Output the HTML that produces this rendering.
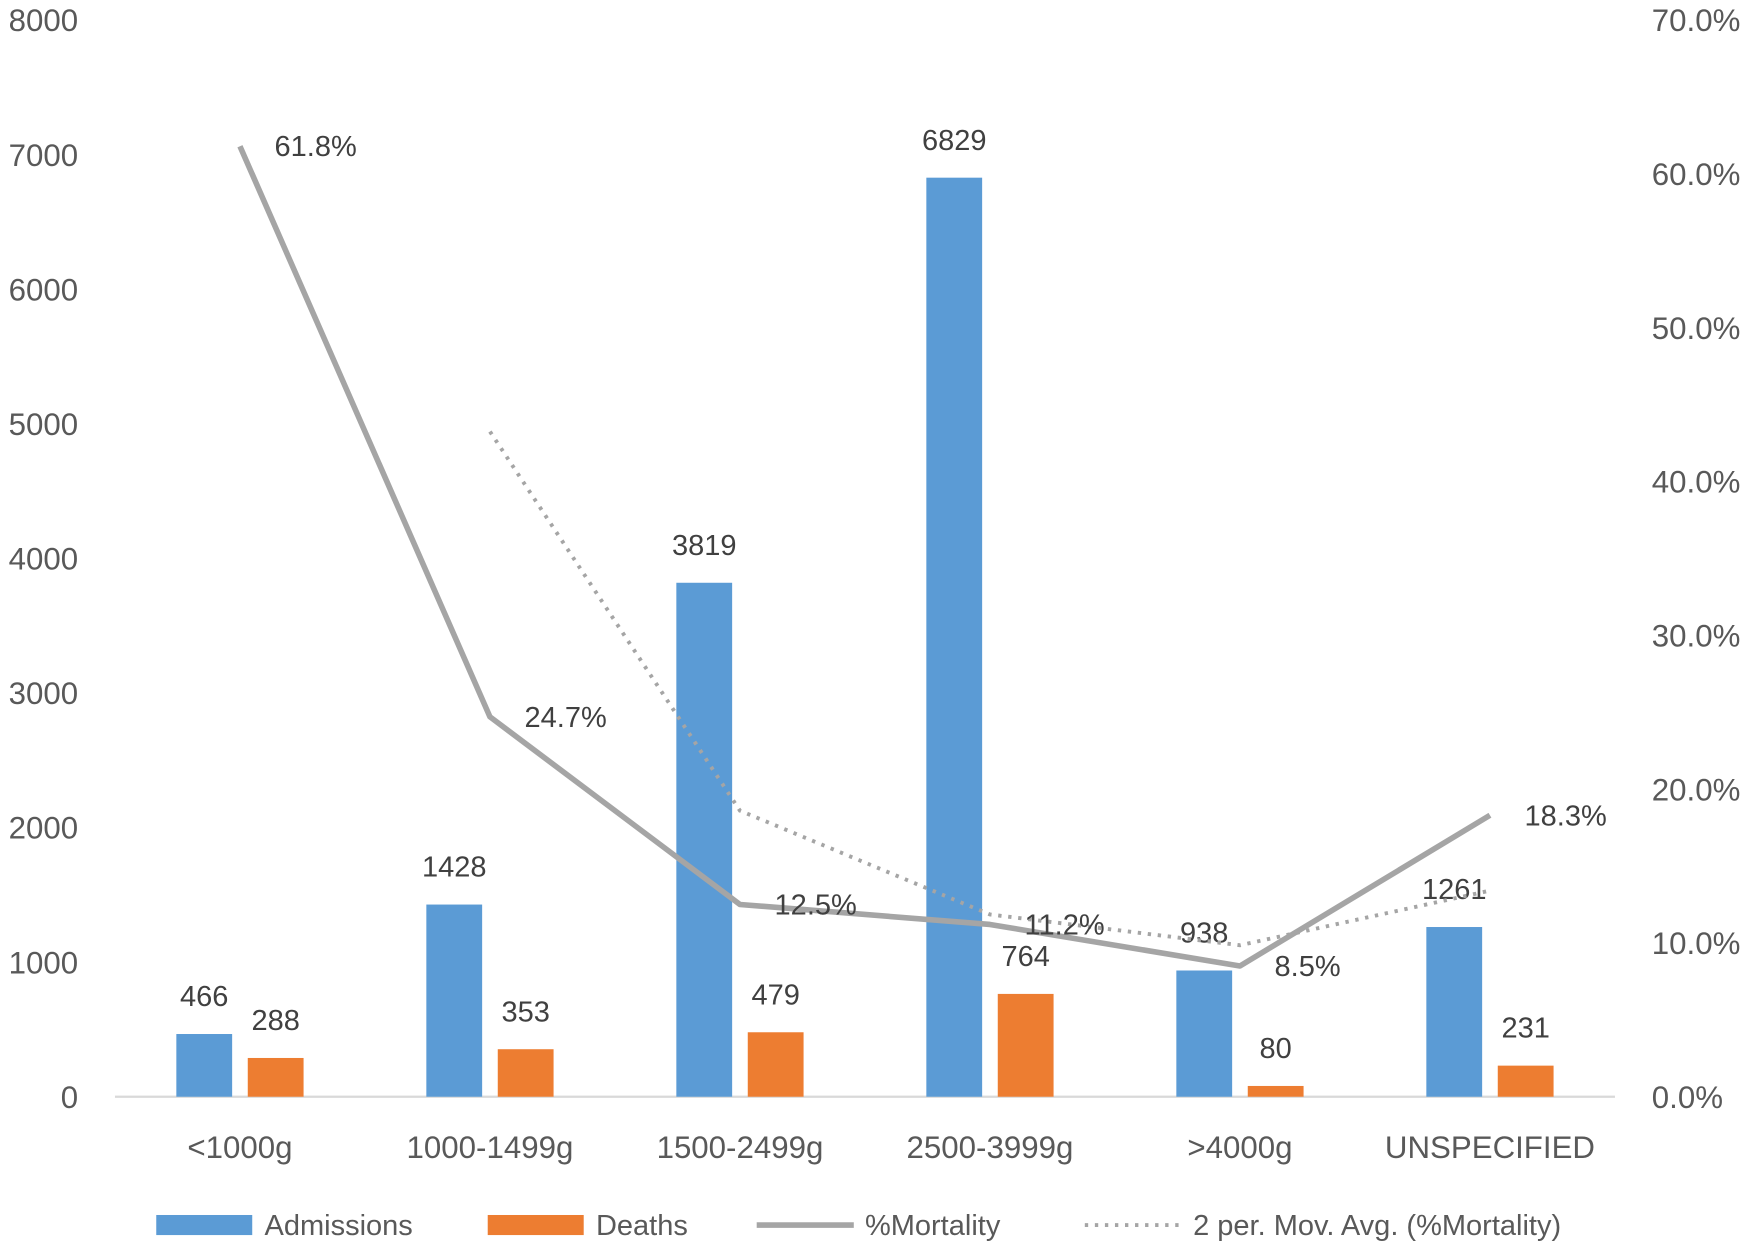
<!DOCTYPE html>
<html><head><meta charset="utf-8"><style>
body{margin:0;background:#fff;}
svg{display:block;font-family:"Liberation Sans",sans-serif;}
</style></head><body>
<svg id="chart" width="1750" height="1244" viewBox="0 0 1568 1115" preserveAspectRatio="none"></svg>
<script>
const categories=["<1000g","1000-1499g","1500-2499g","2500-3999g",">4000g","UNSPECIFIED"];
const admissions=[466,1428,3819,6829,938,1261];
const deaths=[288,353,479,764,80,231];
const mortality=[61.8,24.7,12.5,11.2,8.5,18.3];
const leftTicks=[0,1000,2000,3000,4000,5000,6000,7000,8000];
const rightTicks=[0,10,20,30,40,50,60,70];

const svg=document.getElementById('chart');
const NS='http://www.w3.org/2000/svg';
function mk(tag,attrs,parent){const e=document.createElementNS(NS,tag);for(const k in attrs)e.setAttribute(k,attrs[k]);(parent||svg).appendChild(e);return e;}
const x0=103,x1=1447,yBase=983,yTop=18;
const band=(x1-x0)/categories.length;
const xc=i=>x0+band*(i+0.5);
const yL=v=>yBase-(v/8000)*(yBase-yTop);
const yR=p=>yBase-(p/70)*(yBase-yTop);

leftTicks.forEach(t=>{const e=mk('text',{x:70,y:yL(t)+10,'text-anchor':'end','font-size':28,fill:'#595959'});e.textContent=t;

});
rightTicks.forEach(t=>{const e=mk('text',{x:1480,y:yR(t)+10,'font-size':28,fill:'#595959'});e.textContent=t.toFixed(1)+'%';

});
const ax=mk('line',{x1:x0,x2:x1,y1:yBase,y2:yBase,stroke:'#d9d9d9','stroke-width':2});



categories.forEach((c,i)=>{
  const e=mk('text',{x:xc(i),y:1038,'text-anchor':'middle','font-size':28,fill:'#595959'});e.textContent=c;
  
  
  const ya=yL(admissions[i]);
  const b=mk('rect',{x:xc(i)-57,y:ya,width:50,height:yBase-ya,fill:'#5B9BD5'});
  
  
  const la=mk('text',{x:xc(i)-32,y:ya-25,'text-anchor':'middle','font-size':26,fill:'#404040'});la.textContent=admissions[i];
  
  
  const yd=yL(deaths[i]);
  const d=mk('rect',{x:xc(i)+7,y:yd,width:50,height:yBase-yd,fill:'#ED7D31'});
  
  
  const ld=mk('text',{x:xc(i)+32,y:yd-25,'text-anchor':'middle','font-size':26,fill:'#404040'});ld.textContent=deaths[i];
  
  
});

const mpts=mortality.map((m,i)=>xc(i)+','+yR(m)).join(' ');
const ml=mk('polyline',{points:mpts,fill:'none',stroke:'#A5A5A5','stroke-width':5,'stroke-linejoin':'round'});


const avg=[];for(let i=1;i<mortality.length;i++)avg.push(xc(i)+','+yR((mortality[i]+mortality[i-1])/2));
const al=mk('polyline',{points:avg.join(' '),fill:'none',stroke:'#A5A5A5','stroke-width':3.5,'stroke-dasharray':'3 6'});


mortality.forEach((m,i)=>{const e=mk('text',{x:xc(i)+31,y:yR(m)+9,'font-size':26,fill:'#404040'});e.textContent=m.toFixed(1)+'%';

});

const lg=mk('g',{});


const items=[['rect','#5B9BD5',140,'Admissions'],['rect','#ED7D31',437,'Deaths'],['line','#A5A5A5',678,'%Mortality'],['dot','#A5A5A5',972,'2 per. Mov. Avg. (%Mortality)']];
items.forEach(([k,c,x,t])=>{
  const g=mk('g',{},lg);
  
  
  if(k==='rect')mk('rect',{x:x,y:1089,width:86,height:18,fill:c},g);
  else if(k==='line')mk('line',{x1:x,x2:x+87,y1:1098,y2:1098,stroke:c,'stroke-width':5},g);
  else mk('line',{x1:x,x2:x+87,y1:1098,y2:1098,stroke:c,'stroke-width':3.5,'stroke-dasharray':'3 6'},g);
  const e=mk('text',{x:x+97,y:1107,'font-size':26,fill:'#595959'},g);e.textContent=t;
});
</script>
</body></html>
